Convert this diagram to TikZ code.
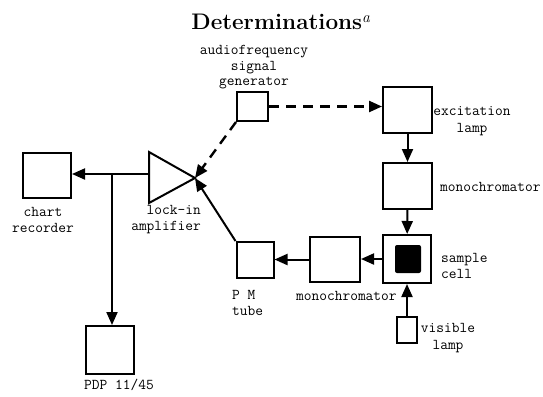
\documentclass[tikz,border=0pt]{standalone}
\usepackage{fontspec}
\usetikzlibrary{arrows.meta}
\begin{document}
\begin{tikzpicture}[x=1pt,y=-1pt,
  blk/.style={draw, line width=2pt, inner sep=0pt, minimum width=#1},
  lab/.style={font=\ttfamily\fontsize{15}{16}\selectfont, inner sep=0pt},
  conn/.style={line width=2pt, -{Triangle[length=13pt,width=11pt]}},
  dconn/.style={line width=2.4pt, dash pattern=on 10pt off 7pt, -{Triangle[length=13pt,width=11pt]}}
]
\useasboundingbox (0,0) rectangle (543,396);

% title
\node[font=\bfseries\fontsize{22.5}{26}\selectfont, inner sep=0pt] (title) at (281,22) {Determinations$^{\mathit{a}}$};

% boxes
\node[blk=31pt, minimum height=29pt] (sig) at (252.5,106.5) {};
\node[blk=49pt, minimum height=46pt] (exc) at (407.5,110) {};
\node[blk=49pt, minimum height=46pt] (mono1) at (407.5,186) {};
\node[blk=48pt, minimum height=48pt] (cell) at (407,259) {};
\node[fill=black, rounded corners=2pt, minimum width=26pt, minimum height=28pt, inner sep=0pt] (sample) at (408,259) {};
\node[blk=50pt, minimum height=45pt] (mono2) at (335,259.5) {};
\node[blk=37pt, minimum height=36pt] (pm) at (255,260) {};
\node[blk=20pt, minimum height=26pt] (vis) at (407,330) {};
\node[blk=48pt, minimum height=45pt] (chart) at (47,175.5) {};
\node[blk=48pt, minimum height=48pt] (pdp) at (110,350) {};

% lock-in amplifier triangle
\draw[line width=2pt, line join=miter] (149,152) -- (149,203) -- (195,178) -- cycle;
\coordinate (apex) at (195,178);
\coordinate (ampleft) at (149,174);
\coordinate (junc) at (112,174);

% labels
\node[lab, align=center] (siglab) at (254,67.5) {audiofrequency\\[-0.5pt]signal\\[-0.5pt]generator};
\node[lab, align=center] (exclab) at (472,121) {excitation\\[1pt]lamp};
\node[lab, anchor=west] (mono1lab) at (440,187) {monochromator};
\node[lab, align=left, anchor=west] (celllab) at (441,266) {sample\\cell};
\node[lab, anchor=west] (mono2lab) at (296,296) {monochromator};
\node[lab, align=center] (vislab) at (448,338.5) {visible\\[1pt]lamp};
\node[lab, align=left, anchor=west] (pmlab) at (232,303) {P M\\tube};
\node[lab, align=center] (chartlab) at (43,220) {chart\\recorder};
\node[lab, align=right, anchor=east] (amplab) at (201,220) {lock-in\\amplifier};
\node[lab] (pdplab) at (119,385) {PDP 11/45};

% connectors
\draw[dconn] (sig.east) -- (sig.east -| exc.west);
\draw[dconn] (sig.south west) -- (apex);
\draw[conn] (exc) -- (mono1);
\draw[conn] (mono1) -- (cell);
\draw[conn] (vis) -- (cell);
\draw[conn] (cell.west) -- (cell.west -| mono2.east);
\draw[conn] (mono2.west) -- (mono2.west -| pm.east);
\draw[conn] (pm.north west) -- (apex);
\draw[conn] (ampleft) -- (ampleft -| chart.east);
\draw[conn] (junc) -- (junc |- pdp.north);
\end{tikzpicture}
\end{document}
